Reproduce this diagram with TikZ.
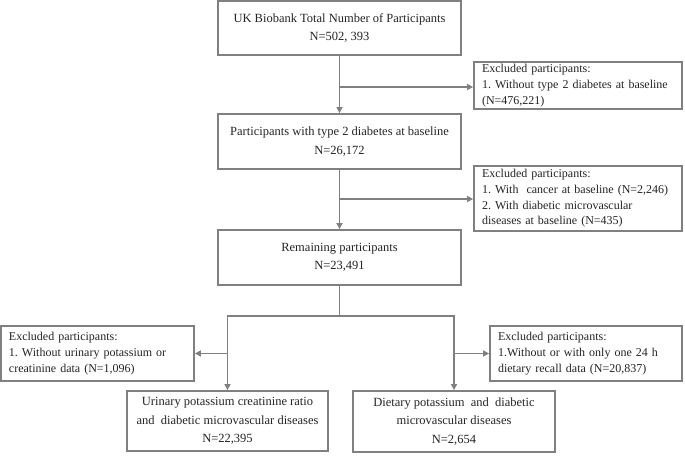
\documentclass[tikz,border=0pt]{standalone}
\usepackage{fontspec}
\setmainfont{Liberation Serif}
\usetikzlibrary{arrows.meta}
\definecolor{lineg}{RGB}{128,128,128}
\definecolor{textg}{RGB}{35,35,35}
\tikzset{
  mainbox/.style={draw=lineg, line width=1.8pt, text=textg, align=center, inner sep=0pt,
    font=\fontsize{12.5}{18.5}\selectfont},
  exbox/.style={draw=lineg, line width=1.8pt, text=textg, align=left, inner xsep=8pt, inner ysep=0pt,
    font=\fontsize{12}{15.7}\selectfont},
  conn/.style={draw=lineg, line width=1.8pt},
  arr/.style={conn, -{Triangle[length=6pt,width=6pt]}}
}
\begin{document}
\frenchspacing
\begin{tikzpicture}[x=1pt,y=1pt]
\useasboundingbox (0,0) rectangle (685,-455);
% main boxes
\node[mainbox, minimum width=243pt, minimum height=54pt] (b1) at (339.5,-28) {UK Biobank Total Number of Participants\\N=502, 393};
\node[mainbox, minimum width=243pt, minimum height=55pt] (b2) at (339.5,-141.5) {Participants with type 2 diabetes at baseline\\N=26,172};
\node[mainbox, minimum width=243pt, minimum height=55pt] (b3) at (339.5,-257.5) {Remaining participants\\N=23,491};
\node[mainbox, minimum width=201pt, minimum height=60pt] (bl) at (227.5,-421) {Urinary potassium creatinine ratio\\and\ \ diabetic microvascular diseases\\N=22,395};
\node[mainbox, minimum width=202pt, minimum height=61pt] (br) at (454,-421.5) {Dietary potassium\ \ and\ \ diabetic\\microvascular diseases\\N=2,654};
% excluded boxes
\node[exbox, text width=192pt, minimum height=47pt] (e1) at (578,-85.5) {Excluded participants:\\1. Without type 2 diabetes at baseline\\(N=476,221)};
\node[exbox, text width=192pt, minimum height=65pt] (e2) at (578,-198.5) {Excluded participants:\\1. With\ \ cancer at baseline (N=2,246)\\2. With diabetic microvascular\\diseases at baseline (N=435)};
\node[exbox, text width=177pt, minimum height=55pt] (el) at (97.5,-353.5) {Excluded participants:\\1. Without urinary potassium or\\creatinine data (N=1,096)};
\node[exbox, text width=176pt, minimum height=55pt] (er) at (586,-353.5) {Excluded participants:\\1.Without or with only one 24 h\\dietary recall data (N=20,837)};
% junction coordinates
\coordinate (j1) at (339.5,-87);
\coordinate (j2) at (339.5,-199);
\coordinate (j3) at (339.5,-316);
\coordinate (jl) at (227.5,-316);
\coordinate (jr) at (454,-316);
\coordinate (jl2) at (227.5,-353.5);
\coordinate (jr2) at (454,-353.5);
% connectors
\draw[arr] (b1.south) -- (b2.north);
\draw[arr] (j1) -- (j1 -| e1.west);
\draw[arr] (b2.south) -- (b3.north);
\draw[arr] (j2) -- (j2 -| e2.west);
\draw[conn] (b3.south) -- (j3);
\draw[conn, line cap=rect] (jl) -- (jr);
\draw[arr] (jl) -- (bl.north);
\draw[arr] (jr) -- (br.north);
\draw[arr] (jl2) -- (jl2 -| el.east);
\draw[arr] (jr2) -- (jr2 -| er.west);
\end{tikzpicture}
\end{document}
